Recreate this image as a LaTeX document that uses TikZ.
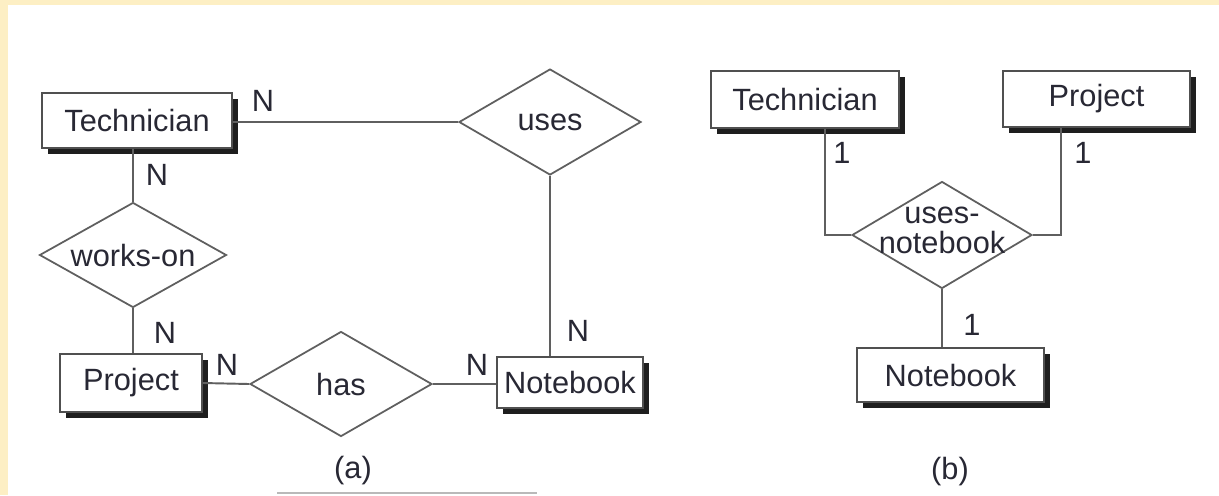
\documentclass[tikz,border=0pt]{standalone}
\usepackage{fontspec}
\setmainfont{Liberation Sans}
\usetikzlibrary{shapes.geometric,shadows,calc}
\definecolor{pageyellow}{RGB}{253,239,196}
\definecolor{inkgray}{RGB}{80,80,80}
\definecolor{linegray}{RGB}{95,95,95}
\definecolor{textdark}{RGB}{40,40,52}
\definecolor{shadowdark}{RGB}{30,30,30}
\definecolor{rulegray}{RGB}{185,185,185}

\begin{document}
\begin{tikzpicture}[x=0.02cm,y=-0.02cm,
  font=\fontsize{17.5}{17}\selectfont, text=textdark,
  entity/.style={draw=inkgray, line width=1.2pt, fill=white, inner sep=0pt,
    general shadow={fill=shadowdark, shadow xshift=0.12cm, shadow yshift=-0.11cm}},
  rel/.style={diamond, draw=linegray, line width=1pt, fill=white, inner sep=0pt},
  link/.style={draw=linegray, line width=1.1pt},
  card/.style={inner sep=0pt},
  caption/.style={inner sep=0pt}
]
\useasboundingbox (0,0) rectangle (1219,495);
% page background
\fill[pageyellow] (0,0) rectangle (1219,495);
\fill[white] (8,5) rectangle (1219,495);

% ---------------- (a) binary relationships ----------------
\node[entity, minimum width=3.8cm, minimum height=1.1cm] (techA) at (137,120.5) {Technician};
\node[entity, minimum width=2.84cm, minimum height=1.16cm] (projA) at (131,383) {Project};
\node[entity, minimum width=2.92cm, minimum height=1.02cm] (noteA) at (570,382.5) {Notebook};

\node[rel, minimum width=3.64cm, minimum height=2.12cm, label=center:uses] (usesA) at (550,122) {};
\node[rel, minimum width=3.74cm, minimum height=2.1cm, label=center:works-on] (worksA) at (133,255) {};
\node[rel, minimum width=3.64cm, minimum height=2.1cm, label=center:has] (hasA) at (341,384) {};

\draw[link] (usesA.west) -- (usesA.west -| techA.east);
\draw[link] (worksA.north) -- (worksA.north |- techA.south);
\draw[link] (worksA.south) -- (worksA.south |- projA.north);
\draw[link] (projA.east) -- (hasA.west);
\draw[link] (hasA.east) -- (hasA.east -| noteA.west);
\draw[link] (usesA.south) -- (usesA.south |- noteA.north);

\node[card] (nTU) at (263,101) {N};
\node[card] (nTW) at (157,175) {N};
\node[card] (nWP) at (165,333) {N};
\node[card] (nPH) at (227,365) {N};
\node[card] (nHN) at (477,365) {N};
\node[card] (nUN) at (578,331) {N};

\node[caption] (capA) at (353,471) {(a)};
\coordinate (ruleL) at (277,493);
\coordinate (ruleR) at (537,493);
\draw[rulegray, line width=0.7pt] (ruleL) -- (ruleR);

% ---------------- (b) ternary relationship ----------------
\node[entity, minimum width=3.76cm, minimum height=1.14cm] (techB) at (805,99.5) {Technician};
\node[entity, minimum width=3.74cm, minimum height=1.12cm] (projB) at (1096.5,99) {Project};
\node[entity, minimum width=3.74cm, minimum height=1.08cm] (noteB) at (950.5,375) {Notebook};

\node[rel, minimum width=3.6cm, minimum height=2.14cm,
  label={[align=center, yshift=0.1cm]center:uses-\\notebook}] (usesB) at (942,235) {};

\draw[link] ($(techB.south)+(20,0)$) |- (usesB.west);
\draw[link] ($(projB.south)+(-35.5,0)$) |- (usesB.east);
\draw[link] (usesB.south) -- (usesB.south |- noteB.north);

\node[card] (oT) at (842,153) {1};
\node[card] (oP) at (1083,153) {1};
\node[card] (oN) at (972,325) {1};

\node[caption] (capB) at (950,472) {(b)};
\end{tikzpicture}
\end{document}
